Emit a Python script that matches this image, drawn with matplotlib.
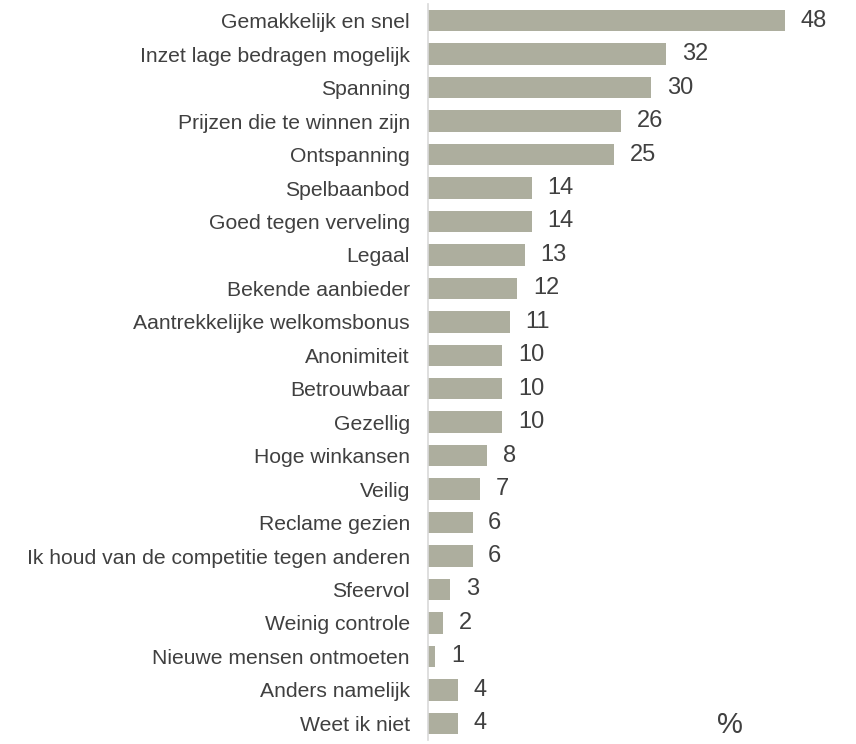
import matplotlib
matplotlib.use("Agg")
import matplotlib.pyplot as plt

categories = [
    "Gemakkelijk en snel", "Inzet lage bedragen mogelijk", "Spanning",
    "Prijzen die te winnen zijn", "Ontspanning", "Spelbaanbod",
    "Goed tegen verveling", "Legaal", "Bekende aanbieder",
    "Aantrekkelijke welkomsbonus", "Anonimiteit", "Betrouwbaar", "Gezellig",
    "Hoge winkansen", "Veilig", "Reclame gezien",
    "Ik houd van de competitie tegen anderen", "Sfeervol", "Weinig controle",
    "Nieuwe mensen ontmoeten", "Anders namelijk", "Weet ik niet",
]
values = [48, 32, 30, 26, 25, 14, 14, 13, 12, 11, 10, 10, 10, 8, 7, 6, 6, 3, 2, 1, 4, 4]

plt.rcParams['font.family'] = ['Liberation Sans', 'DejaVu Sans']

fig = plt.figure(figsize=(8.56, 7.44), dpi=100)
ax = fig.add_axes([428/856, 4/744, 409/856, 736/744])

y = list(range(len(categories)))
ax.barh(y, values, height=0.64, color='#ADAE9E', edgecolor='none')
ax.set_xlim(0, 55)
ax.set_ylim(len(categories) - 0.5, -0.5)
ax.set_yticks(y)
ax.set_yticklabels(categories, fontsize=15.2, color='#404040')
ax.tick_params(axis='y', length=0, pad=13)
ax.set_xticks([])
for s in ['top', 'right', 'bottom']:
    ax.spines[s].set_visible(False)
ax.spines['left'].set_color('#D9D9D9')
ax.spines['left'].set_linewidth(1.2)

for yi, v in zip(y, values):
    ax.text(v + 2.1, yi, str(v), va='center', ha='left', fontsize=17, color='#404040')

fig.text(730/856, 5/744, '%', fontsize=21, color='#404040',
         ha='center', va='bottom')

fig.savefig('out.png', dpi=100)
